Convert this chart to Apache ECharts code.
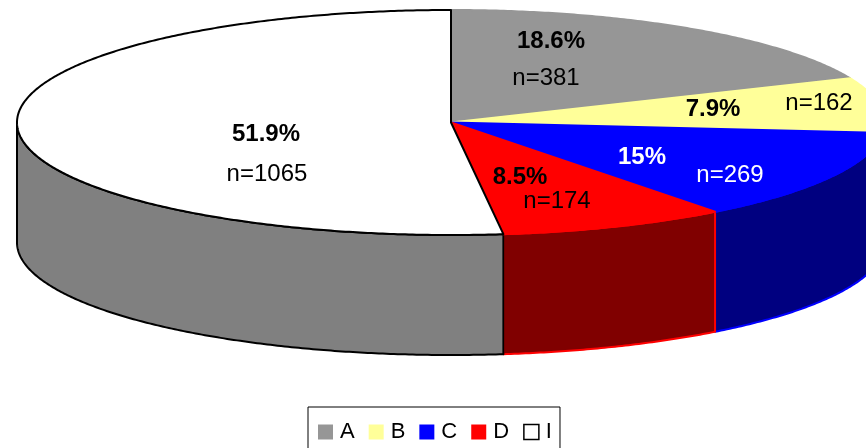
<!DOCTYPE html>
<html>
<head>
<meta charset="utf-8">
<script src="https://cdn.jsdelivr.net/npm/echarts@6/dist/echarts.min.js"></script>
<style>
  html, body { margin: 0; padding: 0; background: #fff; }
  #chart { width: 866px; height: 448px; }
</style>
</head>
<body>
<div id="chart"></div>
<script>
// Categories and counts, clockwise from 12 o'clock
const categories = ['A', 'B', 'C', 'D', 'I'];
const counts = [381, 162, 269, 174, 1065];
const percentLabels = ['18.6%', '7.9%', '15%', '8.5%', '51.9%'];

// Slice colours: top face, side wall, outline, label text
const topColors = ['#969696', '#FFFF99', '#0000FF', '#FF0000', '#FFFFFF'];
const sideColors = ['#4B4B4B', '#80804C', '#000080', '#800000', '#808080'];
const edgeColors = ['#969696', '#FFFF99', '#0000FF', '#FF0000', '#000000'];
const labelColors = ['#000000', '#000000', '#FFFFFF', '#000000', '#000000'];

// Label anchors (centre of percentage text, centre of count text)
const labelLayout = [
  [[551, 41], [546, 78]],
  [[713, 109], [819, 103]],
  [[642, 157], [730, 175]],
  [[520, 177], [557, 201]],
  [[266, 134], [267, 174]]
];

// Tilted pie geometry
const CX = 451, CY = 122.5, RX = 434, RY = 112.5, DEPTH = 120;
const FONT = '"Liberation Sans", Arial, sans-serif';

const total = counts.reduce((s, v) => s + v, 0);
const starts = [];
counts.reduce((acc, v, i) => { starts[i] = acc; return acc + v; }, 0);

function pt(theta, dy) {
  return [CX + RX * Math.sin(theta), CY - RY * Math.cos(theta) + (dy || 0)];
}

function arc(a1, a2, dy) {
  const n = Math.max(2, Math.ceil((a2 - a1) / (Math.PI / 360)));
  const pts = [];
  for (let k = 0; k <= n; k++) pts.push(pt(a1 + (a2 - a1) * k / n, dy));
  return pts;
}

function renderSlice(i, api) {
  const value = api.value(0);
  const a1 = starts[i] / total * 2 * Math.PI;
  const a2 = (starts[i] + value) / total * 2 * Math.PI;
  const children = [];

  // Front wall: only the part of the rim facing the viewer (90..270 deg)
  const s = Math.max(a1, Math.PI / 2);
  const e = Math.min(a2, Math.PI * 1.5);
  if (e > s) {
    const top = arc(s, e, 0);
    const bottom = arc(s, e, DEPTH).reverse();
    children.push({
      type: 'polygon',
      z2: 1,
      shape: { points: top.concat(bottom) },
      style: { fill: sideColors[i], stroke: edgeColors[i], lineWidth: 2, lineJoin: 'round' }
    });
  }

  // Top face
  children.push({
    type: 'polygon',
    z2: 10,
    shape: { points: [[CX, CY]].concat(arc(a1, a2, 0)) },
    style: { fill: topColors[i], stroke: edgeColors[i], lineWidth: 2, lineJoin: 'round' }
  });

  const [pPos, nPos] = labelLayout[i];
  children.push({
    type: 'text', z2: 20, x: pPos[0], y: pPos[1],
    style: {
      text: percentLabels[i], fill: labelColors[i],
      font: 'bold 24px ' + FONT, align: 'center', verticalAlign: 'middle'
    }
  });
  children.push({
    type: 'text', z2: 20, x: nPos[0], y: nPos[1],
    style: {
      text: 'n=' + value, fill: labelColors[i],
      font: '24px ' + FONT, align: 'center', verticalAlign: 'middle'
    }
  });

  return { type: 'group', children };
}

const chart = echarts.init(document.getElementById('chart'), null, { renderer: 'canvas' });

chart.setOption({
  animation: false,
  backgroundColor: '#ffffff',
  legend: {
    left: 308,
    top: 407,
    orient: 'horizontal',
    padding: [14, 8, 16, 10],
    borderColor: '#000000',
    borderWidth: 1,
    itemWidth: 15,
    itemHeight: 15,
    itemGap: 14,
    icon: 'rect',
    selectedMode: false,
    textStyle: { fontSize: 22, color: '#000000', fontFamily: FONT, padding: [0, 0, 0, 2] },
    data: categories.map((name, i) => ({
      name,
      itemStyle: i === 4
        ? { color: '#FFFFFF', borderColor: '#000000', borderWidth: 1.5 }
        : { color: topColors[i], borderWidth: 0 }
    }))
  },
  series: categories.map((name, i) => ({
    type: 'custom',
    name,
    coordinateSystem: 'none',
    silent: true,
    itemStyle: { color: topColors[i] },
    data: [counts[i]],
    renderItem: (params, api) => renderSlice(i, api)
  }))
});
</script>
</body>
</html>
